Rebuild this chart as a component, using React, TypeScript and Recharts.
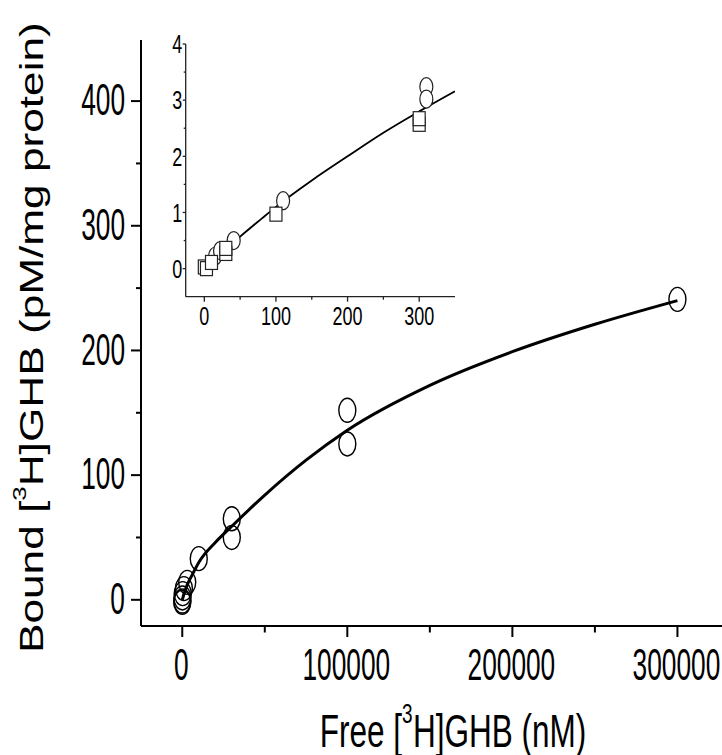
import React from "react";
import { ComposedChart, Line, Scatter, XAxis, YAxis } from "recharts";

// ---------- data ----------
const mainFitCurve = [
  { x: 0, y: 0 },
  { x: 1000, y: 4.5 },
  { x: 3000, y: 12 },
  { x: 6000, y: 20 },
  { x: 10000, y: 30 },
  { x: 20000, y: 46 },
  { x: 30000, y: 59 },
  { x: 50000, y: 84 },
  { x: 75000, y: 112 },
  { x: 100000, y: 136 },
  { x: 150000, y: 172 },
  { x: 200000, y: 199 },
  { x: 250000, y: 221 },
  { x: 300000, y: 240 },
];

const mainPoints = [
  { x: 10, y: -2 },
  { x: 30, y: -1 },
  { x: 100, y: 1.5 },
  { x: 300, y: 5 },
  { x: 1000, y: 9 },
  { x: 3000, y: 14 },
  { x: 10000, y: 33 },
  { x: 30000, y: 65 },
  { x: 30000, y: 50 },
  { x: 100000, y: 152 },
  { x: 100000, y: 125 },
  { x: 300000, y: 241 },
];

const insetFitCurve = [
  { x: 0, y: 0 },
  { x: 20, y: 0.23 },
  { x: 50, y: 0.57 },
  { x: 80, y: 0.89 },
  { x: 100, y: 1.1 },
  { x: 150, y: 1.57 },
  { x: 200, y: 2.0 },
  { x: 250, y: 2.42 },
  { x: 300, y: 2.8 },
  { x: 350, y: 3.16 },
];

const insetCircles = [
  { x: 15, y: 0.22 },
  { x: 22, y: 0.32 },
  { x: 41, y: 0.5 },
  { x: 110, y: 1.21 },
  { x: 310, y: 3.24 },
  { x: 310, y: 3.02 },
];

const insetSquares = [
  { x: 0, y: 0.03 },
  { x: 3, y: 0.0 },
  { x: 10, y: 0.11 },
  { x: 30, y: 0.27 },
  { x: 30, y: 0.36 },
  { x: 100, y: 0.97 },
  { x: 300, y: 2.57 },
  { x: 300, y: 2.67 },
];

const mainXTicks = [0, 50000, 100000, 150000, 200000, 250000, 300000];
const mainYTicks = [0, 50, 100, 150, 200, 250, 300, 350, 400];
const insetXTicks = [0, 50, 100, 150, 200, 250, 300];
const insetYTicks = [0, 0.5, 1, 1.5, 2, 2.5, 3, 3.5, 4];

const mainXDomain = [-25000, 327000];
const mainYDomain = [-21, 449];
const insetXDomain = [-26, 350];
const insetYDomain = [-0.5, 4];

const xLabelText = { pre: "Free [", sup: "3", post: "H]GHB (nM)" };
const yLabelText = { pre: "Bound [", sup: "3", post: "H]GHB (pM/mg protein)" };

// ---------- styling helpers ----------
const FONT = "'Liberation Sans', Arial, Helvetica, sans-serif";

function STxt(p: any) {
  return (
    <text
      transform={`translate(${p.x},${p.y}) scale(${p.sx ?? 1},${p.sy ?? 1})`}
      textAnchor={p.anchor}
      fontSize={p.size}
      fontFamily={FONT}
      fill="#000"
    >
      {p.children}
    </text>
  );
}

// main axes ticks
function MainXTick(props: any) {
  const { x, y, payload } = props;
  const v = payload.value;
  const major = v % 100000 === 0;
  return (
    <g>
      <line x1={x} x2={x} y1={y} y2={y + (major ? 11 : 6.5)} stroke="#000" strokeWidth={2} />
      {major && (
        <STxt x={x - 1} y={y + 54} anchor="middle" size={26.3} sy={1.68}>
          {v}
        </STxt>
      )}
    </g>
  );
}

function MainYTick(props: any) {
  const { x, y, payload } = props;
  const v = payload.value;
  const major = v % 100 === 0;
  return (
    <g>
      <line x1={x - (major ? 10 : 5)} x2={x} y1={y} y2={y} stroke="#000" strokeWidth={2} />
      {major && (
        <STxt x={x - 16} y={y + 14.3} anchor="end" size={26.3} sy={1.68}>
          {v}
        </STxt>
      )}
    </g>
  );
}

function InsetXTick(props: any) {
  const { x, y, payload } = props;
  const v = payload.value;
  const major = v % 100 === 0;
  return (
    <g>
      <line x1={x} x2={x} y1={y} y2={y + (major ? 5 : 3)} stroke="#222" strokeWidth={1.3} />
      {major && (
        <STxt x={x} y={y + 28.3} anchor="middle" size={18} sy={1.4}>
          {v}
        </STxt>
      )}
    </g>
  );
}

function InsetYTick(props: any) {
  const { x, y, payload } = props;
  const v = payload.value;
  const major = Number.isInteger(v);
  return (
    <g>
      <line x1={x - (major ? 3 : 2)} x2={x} y1={y} y2={y} stroke="#222" strokeWidth={1.3} />
      {major && (
        <STxt x={x - 3.5} y={y + 9.3} anchor="end" size={18} sy={1.4}>
          {v}
        </STxt>
      )}
    </g>
  );
}

function XLabel(props: any) {
  const vb = props.viewBox || { x: 141, y: 626 };
  return (
    <text
      transform={`translate(${vb.x + 178.7},${vb.y + 120.7}) scale(1,1.47)`}
      fontSize={31.5}
      fontFamily={FONT}
      fill="#000"
    >
      {xLabelText.pre}
      <tspan fontSize={19} dy={-16}>
        {xLabelText.sup}
      </tspan>
      <tspan dy={16} dx={0.5}>
        {xLabelText.post}
      </tspan>
    </text>
  );
}

function YLabel() {
  return (
    <text
      transform={`translate(43.3,653) rotate(-90) scale(1.36,1)`}
      fontSize={32.5}
      fontFamily={FONT}
      fill="#000"
    >
      {yLabelText.pre}
      <tspan fontSize={19} dy={-17}>
        {yLabelText.sup}
      </tspan>
      <tspan dy={17}>{yLabelText.post}</tspan>
    </text>
  );
}

const MainCircle = (p: any) =>
  p.cx == null ? null : (
    <ellipse cx={p.cx} cy={p.cy} rx={8.5} ry={12} fill="none" stroke="#000" strokeWidth={1.4} />
  );

const InsetCircle = (p: any) =>
  p.cx == null ? null : (
    <ellipse cx={p.cx} cy={p.cy} rx={6.5} ry={9} fill="#fff" stroke="#222" strokeWidth={1.2} />
  );

const InsetSquare = (p: any) =>
  p.cx == null ? null : (
    <rect x={p.cx - 6} y={p.cy - 7} width={12} height={14} fill="#fff" stroke="#222" strokeWidth={1.2} />
  );

export default function App() {
  return (
    <div style={{ position: "absolute", left: 0, top: 0, width: 722, height: 755, background: "#fff" }}>
      <div style={{ position: "absolute", left: 0, top: 0 }}>
        <ComposedChart width={722} height={755} margin={{ top: 40, right: 0, bottom: 0, left: 0 }}>
          <XAxis
            type="number"
            dataKey="x"
            domain={mainXDomain}
            allowDataOverflow
            ticks={mainXTicks}
            interval={0}
            height={129}
            tickSize={0}
            tickMargin={0}
            tickLine={false}
            axisLine={{ stroke: "#000", strokeWidth: 2 }}
            tick={<MainXTick />}
            label={<XLabel />}
          />
          <YAxis
            type="number"
            dataKey="y"
            domain={mainYDomain}
            allowDataOverflow
            ticks={mainYTicks}
            interval={0}
            width={141}
            tickSize={0}
            tickMargin={0}
            tickLine={false}
            axisLine={{ stroke: "#000", strokeWidth: 2 }}
            tick={<MainYTick />}
            label={<YLabel />}
          />
          <Line
            data={mainFitCurve}
            dataKey="y"
            type="monotone"
            stroke="#000"
            strokeWidth={3}
            dot={false}
            activeDot={false}
            isAnimationActive={false}
          />
          <Scatter data={mainPoints} dataKey="y" shape={MainCircle} isAnimationActive={false} />
        </ComposedChart>
      </div>
      <div style={{ position: "absolute", left: 0, top: 0 }}>
        <ComposedChart width={470} height={340} margin={{ top: 44, right: 15, bottom: 0, left: 0 }}>
          <XAxis
            type="number"
            dataKey="x"
            domain={insetXDomain}
            allowDataOverflow
            ticks={insetXTicks}
            interval={0}
            height={43.3}
            tickSize={0}
            tickMargin={0}
            tickLine={false}
            axisLine={{ stroke: "#222", strokeWidth: 1.3 }}
            tick={<InsetXTick />}
          />
          <YAxis
            type="number"
            dataKey="y"
            domain={insetYDomain}
            allowDataOverflow
            ticks={insetYTicks}
            interval={0}
            width={185.7}
            tickSize={0}
            tickMargin={0}
            tickLine={false}
            axisLine={{ stroke: "#222", strokeWidth: 1.3 }}
            tick={<InsetYTick />}
          />
          <Line
            data={insetFitCurve}
            dataKey="y"
            type="monotone"
            stroke="#000"
            strokeWidth={1.8}
            dot={false}
            activeDot={false}
            isAnimationActive={false}
          />
          <Scatter data={insetCircles} dataKey="y" shape={InsetCircle} isAnimationActive={false} />
          <Scatter data={insetSquares} dataKey="y" shape={InsetSquare} isAnimationActive={false} />
        </ComposedChart>
      </div>
    </div>
  );
}
